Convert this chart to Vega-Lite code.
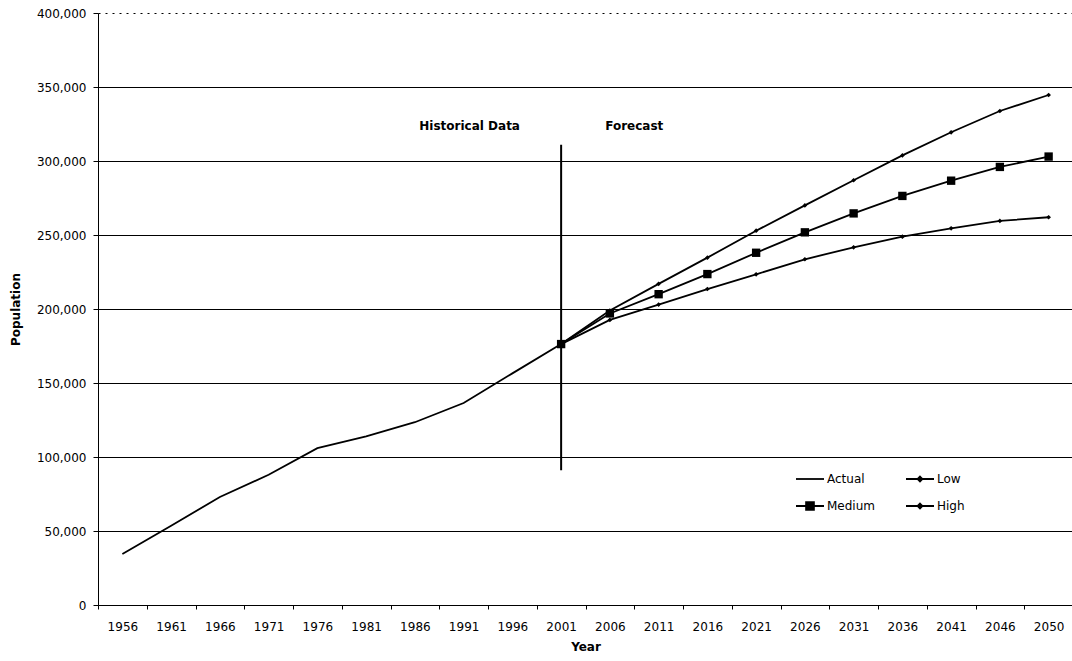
{
  "$schema": "https://vega.github.io/schema/vega-lite/v6.json",
  "width": 975,
  "height": 592,
  "autosize": {"type": "none"},
  "padding": {"left": 98, "top": 13, "right": 0, "bottom": 56},
  "background": "white",
  "config": {"view": {"stroke": null}, "font": "DejaVu Sans"},
  "datasets": {
    "pop": [
      {"year": "1956", "series": "Actual", "value": 34400},
      {"year": "1961", "series": "Actual", "value": 53500},
      {"year": "1966", "series": "Actual", "value": 73000},
      {"year": "1971", "series": "Actual", "value": 88000},
      {"year": "1976", "series": "Actual", "value": 106000},
      {"year": "1981", "series": "Actual", "value": 114000},
      {"year": "1986", "series": "Actual", "value": 123500},
      {"year": "1991", "series": "Actual", "value": 136500},
      {"year": "1996", "series": "Actual", "value": 156500},
      {"year": "2001", "series": "Actual", "value": 176300},
      {"year": "2001", "series": "Low", "value": 176300},
      {"year": "2006", "series": "Low", "value": 192600},
      {"year": "2011", "series": "Low", "value": 203000},
      {"year": "2016", "series": "Low", "value": 213500},
      {"year": "2021", "series": "Low", "value": 223400},
      {"year": "2026", "series": "Low", "value": 233600},
      {"year": "2031", "series": "Low", "value": 241700},
      {"year": "2036", "series": "Low", "value": 248900},
      {"year": "2041", "series": "Low", "value": 254500},
      {"year": "2046", "series": "Low", "value": 259500},
      {"year": "2050", "series": "Low", "value": 262000},
      {"year": "2001", "series": "Medium", "value": 176300},
      {"year": "2006", "series": "Medium", "value": 197000},
      {"year": "2011", "series": "Medium", "value": 210000},
      {"year": "2016", "series": "Medium", "value": 223600},
      {"year": "2021", "series": "Medium", "value": 238000},
      {"year": "2026", "series": "Medium", "value": 251800},
      {"year": "2031", "series": "Medium", "value": 264600},
      {"year": "2036", "series": "Medium", "value": 276400},
      {"year": "2041", "series": "Medium", "value": 286700},
      {"year": "2046", "series": "Medium", "value": 296000},
      {"year": "2050", "series": "Medium", "value": 303000},
      {"year": "2001", "series": "High", "value": 176300},
      {"year": "2006", "series": "High", "value": 199000},
      {"year": "2011", "series": "High", "value": 217000},
      {"year": "2016", "series": "High", "value": 234700},
      {"year": "2021", "series": "High", "value": 252900},
      {"year": "2026", "series": "High", "value": 270000},
      {"year": "2031", "series": "High", "value": 287000},
      {"year": "2036", "series": "High", "value": 303800},
      {"year": "2041", "series": "High", "value": 319400},
      {"year": "2046", "series": "High", "value": 333800},
      {"year": "2050", "series": "High", "value": 344600}
    ]
  },
  "encoding": {
    "x": {
      "field": "year",
      "type": "ordinal",
      "bandPosition": 0.5,
      "scale": {"type": "band", "paddingInner": 0, "paddingOuter": 0},
      "axis": {
        "title": "Year",
        "titleFont": "DejaVu Sans",
        "titleFontSize": 12,
        "titleFontWeight": "bold",
        "titleColor": "black",
        "titlePadding": 9,
        "labelAngle": 0,
        "labelFont": "DejaVu Sans",
        "labelFontSize": 12,
        "labelColor": "black",
        "labelPadding": 12,
        "tickBand": "extent",
        "tickSize": 4,
        "tickColor": "black",
        "domainColor": "black",
        "domainWidth": 1,
        "grid": false
      }
    },
    "y": {
      "field": "value",
      "type": "quantitative",
      "scale": {"domain": [0, 400000], "nice": false},
      "axis": {
        "title": "Population",
        "titleFont": "DejaVu Sans",
        "titleFontSize": 12,
        "titleFontWeight": "bold",
        "titleColor": "black",
        "titlePadding": 14,
        "values": [0, 50000, 100000, 150000, 200000, 250000, 300000, 350000, 400000],
        "format": ",.0f",
        "labelFont": "DejaVu Sans",
        "labelFontSize": 12,
        "labelColor": "black",
        "labelPadding": 7,
        "tickSize": 5,
        "tickColor": "black",
        "domainColor": "black",
        "domainWidth": 1,
        "grid": true,
        "gridColor": "black",
        "gridWidth": 1,
        "gridOpacity": 1,
        "gridDash": {"condition": {"test": "datum.value === 400000", "value": [2, 5]}, "value": []}
      }
    }
  },
  "layer": [
    {
      "data": {"name": "pop"},
      "mark": {"type": "line", "strokeWidth": 1.8},
      "encoding": {
        "color": {
          "field": "series",
          "type": "nominal",
          "scale": {"domain": ["Actual", "Medium", "Low", "High"], "range": ["black", "black", "black", "black"]},
          "legend": {
            "orient": "none",
            "legendX": 697,
            "legendY": 451,
            "title": null,
            "columns": 2,
            "columnPadding": 27,
            "rowPadding": 6,
            "symbolSize": 784,
            "symbolStrokeWidth": 1.8,
            "labelFont": "DejaVu Sans",
            "labelFontSize": 12,
            "labelColor": "black",
            "labelOffset": 2,
            "encode": {
              "symbols": {
                "update": {
                  "shape": {"signal": "datum.value === 'Medium' ? 'M-1,0H1M-0.28,-0.28H0.28V0.28H-0.28Z' : (datum.value === 'Actual' ? 'M-1,0H1' : 'M-1,0H1M0,-0.17L0.17,0L0,0.17L-0.17,0Z')"},
                  "fill": {"value": "black"},
                  "stroke": {"value": "black"}
                }
              }
            }
          }
        }
      }
    },
    {
      "data": {"name": "pop"},
      "transform": [{"filter": "datum.series !== 'Actual'"}],
      "mark": {"type": "point", "filled": true, "opacity": 1, "color": "black"},
      "encoding": {
        "shape": {
          "field": "series",
          "type": "nominal",
          "scale": {"domain": ["Low", "Medium", "High"], "range": ["diamond", "square", "diamond"]},
          "legend": null
        },
        "size": {"condition": {"test": "datum.series === 'Medium'", "value": 70}, "value": 22}
      }
    },
    {
      "data": {"values": [{"year": "2001", "value": 91000, "value2": 311000}]},
      "mark": {"type": "rule", "color": "black", "strokeWidth": 2},
      "encoding": {
        "y2": {"field": "value2"}
      }
    },
    {
      "data": {"values": [{"year": "1991", "value": 323600, "label": "Historical Data"}]},
      "mark": {"type": "text", "font": "DejaVu Sans", "fontSize": 12, "fontWeight": "bold", "color": "black", "align": "center", "baseline": "middle", "dx": 6},
      "encoding": {"text": {"field": "label"}}
    },
    {
      "data": {"values": [{"year": "2006", "value": 323600, "label": "Forecast"}]},
      "mark": {"type": "text", "font": "DejaVu Sans", "fontSize": 12, "fontWeight": "bold", "color": "black", "align": "center", "baseline": "middle"},
      "encoding": {
        "x": {"field": "year", "type": "ordinal", "bandPosition": 1},
        "text": {"field": "label"}
      }
    }
  ]
}
